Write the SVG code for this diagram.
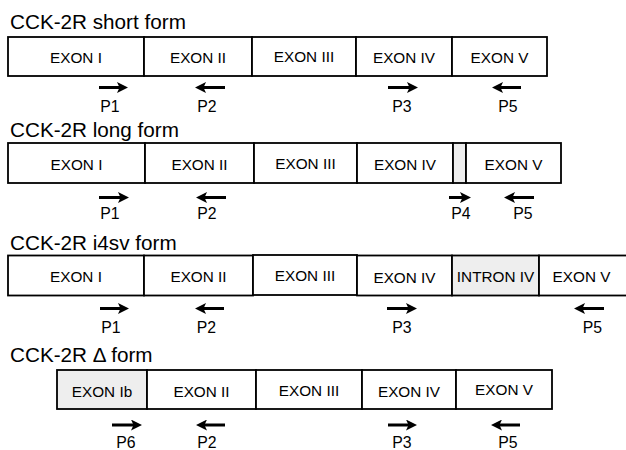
<svg xmlns="http://www.w3.org/2000/svg" width="626" height="450" viewBox="0 0 626 450">
<style>
.bg{fill:#ffffff}
.box{fill:#ffffff;stroke:#000000;stroke-width:1.8}
.gray{fill:#eeeeee}
.title{font-family:"Liberation Sans",Arial,sans-serif;font-size:20.7px;fill:#000000}
.lbl{font-family:"Liberation Sans",Arial,sans-serif;font-size:15.3px;fill:#000000;text-anchor:middle}
.p{font-family:"Liberation Sans",Arial,sans-serif;font-size:15.8px;fill:#000000;text-anchor:middle}
.arr{stroke:#000000;stroke-width:3;fill:none;marker-end:url(#head)}
</style>
<defs>
<marker id="head" viewBox="0 0 11 11" refX="3" refY="5.5" markerWidth="11" markerHeight="11" markerUnits="userSpaceOnUse" orient="auto">
<path d="M0,0 L11,5.5 L0,11 L2.5,5.5 Z" fill="#000000"/>
</marker>
</defs>
<rect class="bg" x="0" y="0" width="626" height="450"/>

<text class="title" x="10" y="29">CCK-2R short form</text>
<text class="title" x="10" y="137">CCK-2R long form</text>
<text class="title" x="10" y="250">CCK-2R i4sv form</text>
<text class="title" x="10" y="362">CCK-2R Δ form</text>

<!-- Row 1: short form -->
<g id="short-exon1"><rect class="box" x="8" y="37" width="136" height="39"/><text class="lbl" x="76" y="63">EXON I</text></g>
<g id="short-exon2"><rect class="box" x="144" y="37" width="108" height="39"/><text class="lbl" x="198" y="63">EXON II</text></g>
<g id="short-exon3"><rect class="box" x="252" y="37" width="104" height="39"/><text class="lbl" x="304" y="62">EXON III</text></g>
<g id="short-exon4"><rect class="box" x="356" y="37" width="96" height="39"/><text class="lbl" x="404" y="63">EXON IV</text></g>
<g id="short-exon5"><rect class="box" x="452" y="37" width="95" height="39"/><text class="lbl" x="499.5" y="63">EXON V</text></g>

<!-- Row 2: long form -->
<g id="long-exon1"><rect class="box" x="8" y="143" width="137" height="40"/><text class="lbl" x="76.5" y="170">EXON I</text></g>
<g id="long-exon2"><rect class="box" x="145" y="143" width="109" height="40"/><text class="lbl" x="199.5" y="170">EXON II</text></g>
<g id="long-exon3"><rect class="box" x="254" y="143" width="103" height="40"/><text class="lbl" x="305.5" y="169">EXON III</text></g>
<g id="long-exon4"><rect class="box" x="357" y="143" width="96" height="40"/><text class="lbl" x="405" y="170">EXON IV</text></g>
<g id="long-insert"><rect class="box gray" x="453" y="143" width="13" height="40"/></g>
<g id="long-exon5"><rect class="box" x="466" y="143" width="95" height="40"/><text class="lbl" x="513.5" y="170">EXON V</text></g>

<!-- Row 3: i4sv form -->
<g id="i4sv-exon1"><rect class="box" x="8" y="255.5" width="136" height="40"/><text class="lbl" x="76" y="282">EXON I</text></g>
<g id="i4sv-exon2"><rect class="box" x="144" y="255.5" width="109" height="40"/><text class="lbl" x="198.5" y="282">EXON II</text></g>
<g id="i4sv-exon3"><rect class="box" x="253" y="255" width="104" height="40"/><text class="lbl" x="305" y="281">EXON III</text></g>
<g id="i4sv-exon4"><rect class="box" x="357" y="255.5" width="95" height="40"/><text class="lbl" x="404.5" y="282.5">EXON IV</text></g>
<g id="i4sv-intron4"><rect class="box gray" x="452" y="255.5" width="87" height="40"/><text class="lbl" x="495.5" y="282">INTRON IV</text></g>
<g id="i4sv-exon5"><rect class="box" x="539" y="255.5" width="100" height="40"/><text class="lbl" x="581.5" y="282">EXON V</text></g>

<!-- Row 4: delta form -->
<g id="delta-exon1b"><rect class="box gray" x="57" y="370" width="90" height="39"/><text class="lbl" x="102" y="397">EXON Ib</text></g>
<g id="delta-exon2"><rect class="box" x="147" y="370" width="109" height="39"/><text class="lbl" x="201.5" y="397">EXON II</text></g>
<g id="delta-exon3"><rect class="box" x="256" y="370" width="106" height="39"/><text class="lbl" x="309" y="396">EXON III</text></g>
<g id="delta-exon4"><rect class="box" x="362" y="370" width="94" height="39"/><text class="lbl" x="409" y="396.5">EXON IV</text></g>
<g id="delta-exon5"><rect class="box" x="456" y="370" width="96" height="39"/><text class="lbl" x="504" y="395">EXON V</text></g>

<!-- Primer arrows -->
<g id="primers">
<line class="arr" x1="99" y1="87.5" x2="120" y2="87.5"/>
<line class="arr" x1="225" y1="87.5" x2="203" y2="87.5"/>
<line class="arr" x1="388" y1="87.5" x2="410" y2="87.5"/>
<line class="arr" x1="521" y1="87.5" x2="500" y2="87.5"/>

<line class="arr" x1="99" y1="197.5" x2="121" y2="197.5"/>
<line class="arr" x1="226" y1="197.5" x2="204" y2="197.5"/>
<line class="arr" x1="449" y1="197.5" x2="463" y2="197.5"/>
<line class="arr" x1="534" y1="197.5" x2="512" y2="197.5"/>

<line class="arr" x1="100" y1="308.5" x2="121" y2="308.5"/>
<line class="arr" x1="224" y1="308.5" x2="203" y2="308.5"/>
<line class="arr" x1="387" y1="308.5" x2="409" y2="308.5"/>
<line class="arr" x1="604" y1="308.5" x2="582" y2="308.5"/>

<line class="arr" x1="112" y1="425" x2="134" y2="425"/>
<line class="arr" x1="225" y1="425" x2="204" y2="425"/>
<line class="arr" x1="388" y1="425" x2="409" y2="425"/>
<line class="arr" x1="520" y1="425" x2="499" y2="425"/>
</g>

<g id="primer-labels">
<text class="p" x="110" y="111.5">P1</text>
<text class="p" x="207" y="111.5">P2</text>
<text class="p" x="402" y="111.5">P3</text>
<text class="p" x="508" y="111.5">P5</text>

<text class="p" x="110" y="219">P1</text>
<text class="p" x="207" y="219">P2</text>
<text class="p" x="461" y="219">P4</text>
<text class="p" x="523" y="219">P5</text>

<text class="p" x="111" y="333">P1</text>
<text class="p" x="206.5" y="333">P2</text>
<text class="p" x="402" y="333">P3</text>
<text class="p" x="592.5" y="333">P5</text>

<text class="p" x="126" y="447.5">P6</text>
<text class="p" x="207" y="447.5">P2</text>
<text class="p" x="402" y="447.5">P3</text>
<text class="p" x="508" y="447.5">P5</text>
</g>
</svg>
